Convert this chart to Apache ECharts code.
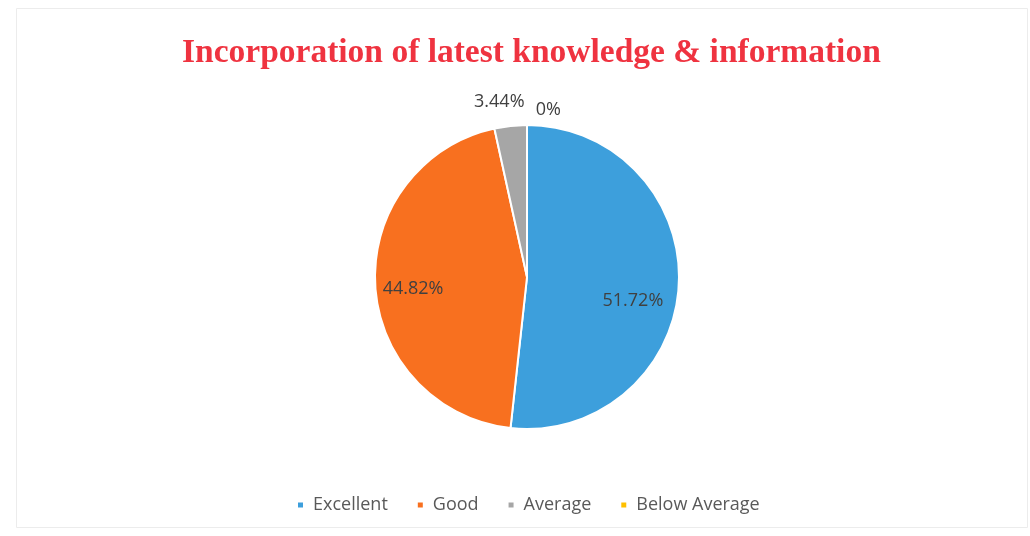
<!DOCTYPE html>
<html>
<head>
<meta charset="utf-8">
<script src="https://cdn.jsdelivr.net/npm/echarts@6/dist/echarts.min.js"></script>
<style>
  html, body { margin: 0; padding: 0; background: #fff; }
  #chart { width: 1030px; height: 536px; }
</style>
</head>
<body>
<div id="chart"></div>
<script>
var categories = ['Excellent', 'Good', 'Average', 'Below Average']
var percents = [51.72, 44.82, 3.44, 0]
var colors = ['#3d9fdc', '#f8701f', '#a6a6a6', '#ffc000']

// label nudges so they sit where the original placed them
var labelPos = ['inside', 'inside', 'outside', 'outside']
var labelOffset = [[27, 20], [-35, 8], [20, -14], [39, -5]]

var myChart = echarts.init(document.getElementById('chart'))

var pieData = categories.map(function (name, i) {
    return {
        name: name,
        value: percents[i],
        itemStyle: { color: colors[i] },
        label: { position: labelPos[i], offset: labelOffset[i] }
    }
})

myChart.setOption({
    animation: false,
    backgroundColor: '#ffffff',
    graphic: [{
        type: 'rect',
        shape: { x: 16.5, y: 8.5, width: 1011, height: 519 },
        style: { fill: 'none', stroke: '#ececec', lineWidth: 1 },
        silent: true
    }],
    title: {
        text: 'Incorporation of latest knowledge & information',
        left: 177,
        top: 31,
        textStyle: {
            fontFamily: 'Liberation Serif',
            fontWeight: 'bold',
            fontSize: 33.5,
            color: '#ef3340'
        }
    },
    legend: {
        bottom: 17,
        left: 291,
        icon: 'rect',
        itemWidth: 7,
        itemHeight: 7,
        itemGap: 28,
        data: categories,
        textStyle: {
            fontFamily: 'Open Sans',
            fontSize: 18,
            color: '#595959',
            padding: [0, 0, 0, 4]
        }
    },
    series: [{
        name: 'Incorporation of latest knowledge & information',
        type: 'pie',
        center: [527, 277],
        radius: 152,
        startAngle: 90,
        clockwise: true,
        avoidLabelOverlap: false,
        itemStyle: { borderColor: '#ffffff', borderWidth: 2 },
        label: {
            show: true,
            formatter: function (p) { return p.value + '%' },
            fontFamily: 'Open Sans',
            fontSize: 18,
            color: '#404040'
        },
        labelLine: { show: false, length: 10, length2: 0 },
        data: pieData
    }]
})
</script>
</body>
</html>
